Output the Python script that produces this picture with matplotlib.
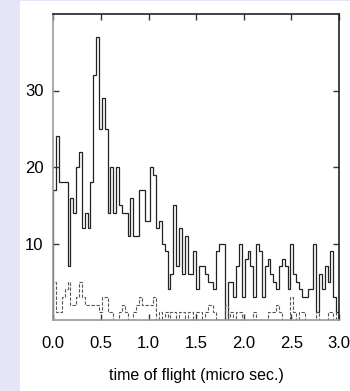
"""
Time-of-flight histogram (solid and dashed step histograms).
"""

import matplotlib
matplotlib.use('Agg')
import matplotlib.pyplot as plt
import numpy as np
from matplotlib.patches import Rectangle

plt.rcParams['font.family'] = ['Liberation Sans', 'DejaVu Sans']

# bin edges: 100 bins of 0.03 micro sec. from 0.0 to 3.0
bin_lo, bin_hi, n_bins = 0.0, 3.0, 100

counts_solid = [
    17, 24, 18, 18, 18, 7, 16, 14, 20, 22, 12, 14, 12, 18, 32, 37, 25, 29, 25, 14,
    20, 14, 20, 15, 14, 14, 11, 16, 11, 11, 17, 17, 13, 13, 20, 19, 12, 13, 10, 9,
    4, 6, 15, 7, 12, 6, 11, 6, 6, 9, 4, 7, 7, 6, 5, 5, 4, 9, 10, 10,
    0, 5, 5, 3, 7, 10, 3, 8, 9, 7, 3, 10, 9, 3, 7, 8, 6, 5, 4, 7,
    8, 7, 4, 10, 6, 5, 4, 3, 3, 4, 4, 10, 1, 6, 4, 7, 5, 9, 3, 1,
]

counts_dashed = [
    5, 1, 1, 3, 4, 5, 2, 2, 3, 5, 3, 2, 2, 2, 2, 2, 1, 3, 3, 1,
    1, 0, 0, 1, 2, 1, 0, 0, 1, 2, 3, 2, 2, 2, 2, 3, 0, 1, 0, 1,
    0, 1, 1, 0, 1, 1, 0, 1, 1, 0, 1, 1, 0, 1, 2, 2, 1, 0, 0, 0,
    2, 0, 1, 0, 1, 1, 0, 0, 0, 0, 1, 0, 0, 0, 0, 1, 1, 1, 2, 1,
    0, 0, 0, 3, 1, 0, 1, 1, 0, 0, 0, 0, 1, 0, 0, 0, 1, 1, 0, 1,
]

x_ticks = [0.0, 0.5, 1.0, 1.5, 2.0, 2.5, 3.0]
y_ticks = [10, 20, 30]
x_label = 'time of flight (micro sec.)'


def main():
    fig = plt.figure(figsize=(3.5, 3.91), dpi=100)
    fig.patch.set_facecolor('#e4e6f8')
    # white panel behind the plot
    fig.patches.append(Rectangle((20 / 350, 0), 1 - 20 / 350, 1 - 1 / 391,
                                 transform=fig.transFigure, facecolor='white',
                                 edgecolor='none', zorder=-10))

    ax = fig.add_axes([53.3 / 350, 1 - 320 / 391, (339 - 53.3) / 350, (320 - 14) / 391])
    ax.set_zorder(1)
    ax.set_facecolor('white')

    edges = np.linspace(bin_lo, bin_hi, n_bins + 1)
    ax.stairs(counts_solid, edges, color='#222222', linewidth=0.9)
    ax.stairs(counts_dashed, edges, color='#555555', linewidth=0.8,
              linestyle=(0, (3, 1.5)))

    ax.set_xlim(0, 3.0)
    ax.set_ylim(0, 40)
    ax.set_xticks(x_ticks)
    ax.set_xticklabels([f'{t:.1f}' for t in x_ticks])
    ax.set_yticks(y_ticks)
    ax.tick_params(direction='in', top=True, right=True, labelsize=12,
                   length=4, width=1, colors='#333333', labelcolor='black')
    ax.tick_params(axis='x', pad=11.5)
    ax.tick_params(axis='y', pad=7)

    for side in ['left', 'bottom']:
        ax.spines[side].set_color('#999999')
    for side in ['top', 'right']:
        ax.spines[side].set_color('#222222')
    for sp in ax.spines.values():
        sp.set_linewidth(1.2)

    ax.set_xlabel(x_label, fontsize=11.5, labelpad=12)

    plt.savefig('out.png', dpi=100, facecolor=fig.get_facecolor())
    plt.close()


if __name__ == '__main__':
    main()
